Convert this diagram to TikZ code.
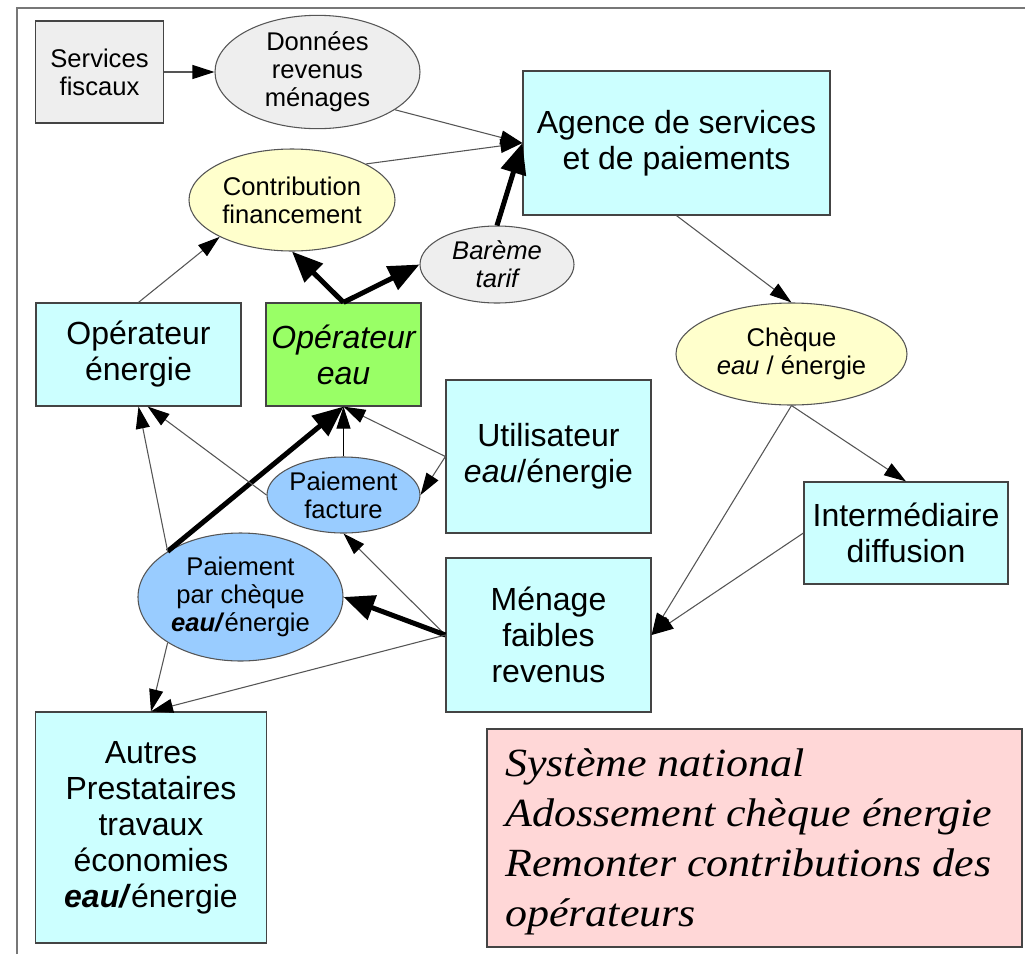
\documentclass[tikz,border=0pt]{standalone}
\usepackage{fontspec}
\setmainfont{Liberation Sans}
\newfontfamily\serifit[FakeStretch=1.1]{Liberation Serif}
\usetikzlibrary{shapes.geometric,arrows.meta}
\definecolor{cyanfill}{HTML}{CCFFFF}
\definecolor{greenfill}{HTML}{99FF66}
\definecolor{yellowfill}{HTML}{FFFFCC}
\definecolor{grayfill}{HTML}{EEEEEE}
\definecolor{bluefill}{HTML}{99CCFF}
\definecolor{pinkfill}{HTML}{FFD7D7}
\definecolor{bordergray}{HTML}{444444}
\definecolor{linegray}{HTML}{555555}
\definecolor{framegray}{HTML}{777777}
\tikzset{
  small/.style={font=\fontsize{19.2pt}{21pt}\selectfont},
  big/.style={font=\fontsize{24pt}{27pt}\selectfont},
  boxnode/.style={draw=bordergray, line width=0.9pt, rectangle, inner sep=0pt, align=center, text=black},
  ellnode/.style={draw=linegray, line width=0.8pt, ellipse, inner sep=0pt, align=center, text=black},
  thinarrow/.style={draw=linegray, line width=0.8pt, -{Triangle[length=16.5pt,width=10.5pt,color=black]}},
  thickarrow/.style={draw=black, line width=3.75pt, -{Triangle[length=23pt,width=19pt]}},
}
\begin{document}
\begin{tikzpicture}[x=0.75pt,y=-0.75pt]
\useasboundingbox (0,0) rectangle (1025,954);
% frame
\draw[framegray, line width=1.2pt] (17,954) -- (17,8) -- (1025,8);

% nodes
\node[boxnode, small, fill=grayfill, minimum width=96pt, minimum height=76.5pt] (fisc) at (99.5,72) {Services\\fiscaux};
\node[ellnode, small, fill=grayfill, minimum width=153.75pt, minimum height=76.5pt] (donnees) at (317.5,72) {Données\\revenus\\ménages};
\node[boxnode, big, fill=cyanfill, minimum width=230.25pt, minimum height=108pt] (agence) at (676.5,143) {Agence de services\\et de paiements};
\node[ellnode, small, fill=yellowfill, minimum width=154.5pt, minimum height=76.5pt] (contrib) at (292,200) {Contribution\\financement};
\node[ellnode, small, fill=grayfill, minimum width=115.5pt, minimum height=57.75pt] (bareme) at (497,264.5) {\itshape Barème\\\itshape tarif};
\node[boxnode, big, fill=cyanfill, minimum width=153.75pt, minimum height=77.25pt] (opener) at (138.5,354.5) {Opérateur\\énergie};
\node[boxnode, big, fill=greenfill, minimum width=116.25pt, minimum height=77.25pt] (opeau) at (343.5,354.5) {\itshape Opérateur\\\itshape eau};
\node[boxnode, big, fill=cyanfill, minimum width=153.75pt, minimum height=114.75pt] (util) at (548.5,456.5) {Utilisateur\\\textit{eau}/énergie};
\node[ellnode, small, fill=bluefill, minimum width=114.75pt, minimum height=57pt] (pfact) at (343.5,495) {Paiement\\facture};
\node[ellnode, small, fill=bluefill, minimum width=153.75pt, minimum height=96pt] (pcheque) at (240.5,597) {Paiement\\par chèque\\\textbf{\textit{eau/}}énergie};
\node[boxnode, big, fill=cyanfill, minimum width=153.75pt, minimum height=115.5pt] (menage) at (548.5,635) {Ménage\\faibles\\revenus};
\node[ellnode, small, fill=yellowfill, minimum width=173.25pt, minimum height=76.5pt] (cheque) at (791.5,354) {Chèque\\\textit{eau} / énergie};
\node[boxnode, big, fill=cyanfill, minimum width=153pt, minimum height=76.5pt] (inter) at (906,533) {Intermédiaire\\diffusion};
\node[boxnode, big, fill=cyanfill, minimum width=173.25pt, minimum height=173.25pt] (autres) at (151,827.5) {Autres\\Prestataires\\travaux\\économies\\\textbf{\textit{eau/}}énergie};
\node[boxnode, fill=pinkfill, minimum width=401.25pt, minimum height=163.5pt] (note) at (754.5,838) {};
\node[anchor=north west, inner sep=0pt, align=left, text=black, font=\serifit\itshape\fontsize{30pt}{37.5pt}\selectfont] (notetext) at (505,748) {Système national\\Adossement chèque énergie\\Remonter contributions des\\opérateurs};

% connectors
\draw[thinarrow] (fisc) -- (donnees);
\draw[thinarrow] (donnees.-26) -- (agence.west);
\draw[thinarrow] (contrib.26) -- (agence.west);
\draw[thickarrow] (bareme.north) -- (agence.west);
\draw[thickarrow] (opeau.north) -- (contrib.south);
\draw[thickarrow] (opeau.north) -- (bareme.west);
\draw[thinarrow] (opener.north) -- (contrib.207);
\draw[thinarrow] (agence.south) -- (cheque.north);
\draw[thinarrow] (cheque.south) -- (inter.north);
\draw[thinarrow] (cheque.south) -- (menage.east);
\draw[thinarrow] (inter.west) -- (menage.east);
\draw[thickarrow] (pcheque.north west) -- (opeau.south);
\draw[thinarrow, draw=black] (pfact.north) -- (opeau.south);
\draw[thinarrow] (util.west) -- (opeau.south);
\draw[thinarrow] (util.west) -- (pfact.east);
\draw[thinarrow] (pfact.west) -- (opener.280);
\draw[thinarrow] (pcheque.north west) -- (opener.south);
\draw[thinarrow] (menage.west) -- (pfact.south);
\draw[thickarrow] (menage.west) -- (pcheque.east);
\draw[thinarrow] (menage.west) -- (autres.north);
\draw[thinarrow] (pcheque.south west) -- (autres.north);
\end{tikzpicture}
\end{document}
